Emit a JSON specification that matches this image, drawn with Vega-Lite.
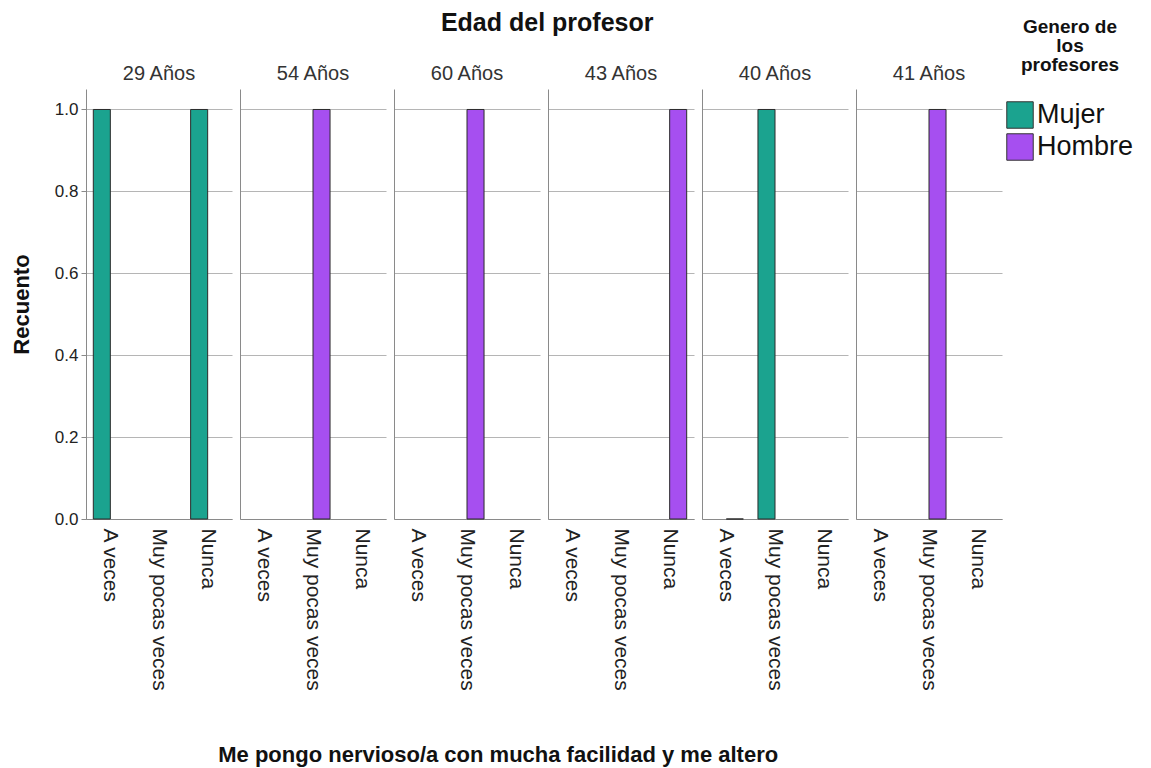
{
  "$schema": "https://vega.github.io/schema/vega-lite/v6.json",
  "padding": {"left": 10, "top": 11, "right": 0, "bottom": 4},
  "background": "white",
  "data": {
    "values": [
      {"edad": "29 Años", "respuesta": "A veces", "genero": "Mujer", "recuento": 1},
      {"edad": "29 Años", "respuesta": "Nunca", "genero": "Mujer", "recuento": 1},
      {"edad": "54 Años", "respuesta": "Muy pocas veces", "genero": "Hombre", "recuento": 1},
      {"edad": "60 Años", "respuesta": "Muy pocas veces", "genero": "Hombre", "recuento": 1},
      {"edad": "43 Años", "respuesta": "Nunca", "genero": "Hombre", "recuento": 1},
      {"edad": "40 Años", "respuesta": "A veces", "genero": "Hombre", "recuento": 0},
      {"edad": "40 Años", "respuesta": "Muy pocas veces", "genero": "Mujer", "recuento": 1},
      {"edad": "41 Años", "respuesta": "Muy pocas veces", "genero": "Hombre", "recuento": 1}
    ]
  },
  "title": {"text": "Me pongo nervioso/a con mucha facilidad y me altero", "orient": "bottom", "anchor": "middle", "fontSize": 22, "fontWeight": "bold", "color": "#111", "offset": 55, "dx": -74},
  "resolve": {"scale": {"color": "shared"}, "legend": {"color": "shared"}},
  "vconcat": [
    {
      "title": {"text": "Edad del profesor", "anchor": "middle", "fontSize": 25, "fontWeight": "bold", "color": "#111", "offset": 28, "dx": 41},
      "spacing": 8,
      "resolve": {"scale": {"color": "shared", "x": "independent", "y": "independent", "xOffset": "independent"}, "legend": {"color": "shared"}},
      "hconcat": [
        {
          "width": 146, "height": 430,
          "title": {"text": "29 Años", "fontSize": 20, "fontWeight": "normal", "color": "#333", "offset": 5, "anchor": "middle"},
          "transform": [{"filter": "datum.edad === '29 Años'"}],
          "mark": {"type": "bar", "stroke": "#2b2b2b", "strokeWidth": 1},
          "encoding": {
            "x": {"field": "respuesta", "type": "nominal", "scale": {"domain": ["A veces", "Muy pocas veces", "Nunca"], "paddingInner": 0.3, "paddingOuter": 0.15}, "axis": {"title": null}},
            "xOffset": {"field": "genero", "type": "nominal", "scale": {"domain": ["Mujer", "Hombre"], "paddingInner": 0, "paddingOuter": 0}},
            "y": {"field": "recuento", "type": "quantitative", "scale": {"domain": [0, 1.05], "nice": false}, "axis": {"title": "Recuento", "values": [0, 0.2, 0.4, 0.6, 0.8, 1.0], "format": ".1f"}},
            "color": {"field": "genero", "type": "nominal", "scale": {"domain": ["Mujer", "Hombre"], "range": ["#1ba38f", "#a64ff0"]}, "legend": {"title": ["Genero de", "los", "profesores"], "orient": "none", "legendX": 920, "legendY": -71}}
          }
        },
        {
          "width": 146, "height": 430,
          "title": {"text": "54 Años", "fontSize": 20, "fontWeight": "normal", "color": "#333", "offset": 5, "anchor": "middle"},
          "transform": [{"filter": "datum.edad === '54 Años'"}],
          "mark": {"type": "bar", "stroke": "#2b2b2b", "strokeWidth": 1},
          "encoding": {
            "x": {"field": "respuesta", "type": "nominal", "scale": {"domain": ["A veces", "Muy pocas veces", "Nunca"], "paddingInner": 0.3, "paddingOuter": 0.15}, "axis": {"title": null}},
            "xOffset": {"field": "genero", "type": "nominal", "scale": {"domain": ["Mujer", "Hombre"], "paddingInner": 0, "paddingOuter": 0}},
            "y": {"field": "recuento", "type": "quantitative", "scale": {"domain": [0, 1.05], "nice": false}, "axis": {"title": null, "values": [0, 0.2, 0.4, 0.6, 0.8, 1.0], "labels": false, "ticks": false}},
            "color": {"field": "genero", "type": "nominal", "scale": {"domain": ["Mujer", "Hombre"], "range": ["#1ba38f", "#a64ff0"]}, "legend": {"title": ["Genero de", "los", "profesores"], "orient": "none", "legendX": 920, "legendY": -71}}
          }
        },
        {
          "width": 146, "height": 430,
          "title": {"text": "60 Años", "fontSize": 20, "fontWeight": "normal", "color": "#333", "offset": 5, "anchor": "middle"},
          "transform": [{"filter": "datum.edad === '60 Años'"}],
          "mark": {"type": "bar", "stroke": "#2b2b2b", "strokeWidth": 1},
          "encoding": {
            "x": {"field": "respuesta", "type": "nominal", "scale": {"domain": ["A veces", "Muy pocas veces", "Nunca"], "paddingInner": 0.3, "paddingOuter": 0.15}, "axis": {"title": null}},
            "xOffset": {"field": "genero", "type": "nominal", "scale": {"domain": ["Mujer", "Hombre"], "paddingInner": 0, "paddingOuter": 0}},
            "y": {"field": "recuento", "type": "quantitative", "scale": {"domain": [0, 1.05], "nice": false}, "axis": {"title": null, "values": [0, 0.2, 0.4, 0.6, 0.8, 1.0], "labels": false, "ticks": false}},
            "color": {"field": "genero", "type": "nominal", "scale": {"domain": ["Mujer", "Hombre"], "range": ["#1ba38f", "#a64ff0"]}, "legend": {"title": ["Genero de", "los", "profesores"], "orient": "none", "legendX": 920, "legendY": -71}}
          }
        },
        {
          "width": 146, "height": 430,
          "title": {"text": "43 Años", "fontSize": 20, "fontWeight": "normal", "color": "#333", "offset": 5, "anchor": "middle"},
          "transform": [{"filter": "datum.edad === '43 Años'"}],
          "mark": {"type": "bar", "stroke": "#2b2b2b", "strokeWidth": 1},
          "encoding": {
            "x": {"field": "respuesta", "type": "nominal", "scale": {"domain": ["A veces", "Muy pocas veces", "Nunca"], "paddingInner": 0.3, "paddingOuter": 0.15}, "axis": {"title": null}},
            "xOffset": {"field": "genero", "type": "nominal", "scale": {"domain": ["Mujer", "Hombre"], "paddingInner": 0, "paddingOuter": 0}},
            "y": {"field": "recuento", "type": "quantitative", "scale": {"domain": [0, 1.05], "nice": false}, "axis": {"title": null, "values": [0, 0.2, 0.4, 0.6, 0.8, 1.0], "labels": false, "ticks": false}},
            "color": {"field": "genero", "type": "nominal", "scale": {"domain": ["Mujer", "Hombre"], "range": ["#1ba38f", "#a64ff0"]}, "legend": {"title": ["Genero de", "los", "profesores"], "orient": "none", "legendX": 920, "legendY": -71}}
          }
        },
        {
          "width": 146, "height": 430,
          "title": {"text": "40 Años", "fontSize": 20, "fontWeight": "normal", "color": "#333", "offset": 5, "anchor": "middle"},
          "transform": [{"filter": "datum.edad === '40 Años'"}],
          "mark": {"type": "bar", "stroke": "#2b2b2b", "strokeWidth": 1},
          "encoding": {
            "x": {"field": "respuesta", "type": "nominal", "scale": {"domain": ["A veces", "Muy pocas veces", "Nunca"], "paddingInner": 0.3, "paddingOuter": 0.15}, "axis": {"title": null}},
            "xOffset": {"field": "genero", "type": "nominal", "scale": {"domain": ["Mujer", "Hombre"], "paddingInner": 0, "paddingOuter": 0}},
            "y": {"field": "recuento", "type": "quantitative", "scale": {"domain": [0, 1.05], "nice": false}, "axis": {"title": null, "values": [0, 0.2, 0.4, 0.6, 0.8, 1.0], "labels": false, "ticks": false}},
            "color": {"field": "genero", "type": "nominal", "scale": {"domain": ["Mujer", "Hombre"], "range": ["#1ba38f", "#a64ff0"]}, "legend": {"title": ["Genero de", "los", "profesores"], "orient": "none", "legendX": 920, "legendY": -71}}
          }
        },
        {
          "width": 146, "height": 430,
          "title": {"text": "41 Años", "fontSize": 20, "fontWeight": "normal", "color": "#333", "offset": 5, "anchor": "middle"},
          "transform": [{"filter": "datum.edad === '41 Años'"}],
          "mark": {"type": "bar", "stroke": "#2b2b2b", "strokeWidth": 1},
          "encoding": {
            "x": {"field": "respuesta", "type": "nominal", "scale": {"domain": ["A veces", "Muy pocas veces", "Nunca"], "paddingInner": 0.3, "paddingOuter": 0.15}, "axis": {"title": null}},
            "xOffset": {"field": "genero", "type": "nominal", "scale": {"domain": ["Mujer", "Hombre"], "paddingInner": 0, "paddingOuter": 0}},
            "y": {"field": "recuento", "type": "quantitative", "scale": {"domain": [0, 1.05], "nice": false}, "axis": {"title": null, "values": [0, 0.2, 0.4, 0.6, 0.8, 1.0], "labels": false, "ticks": false}},
            "color": {"field": "genero", "type": "nominal", "scale": {"domain": ["Mujer", "Hombre"], "range": ["#1ba38f", "#a64ff0"]}, "legend": {"title": ["Genero de", "los", "profesores"], "orient": "none", "legendX": 920, "legendY": -71}}
          }
        }
      ]
    }
  ],
  "config": {
    "font": "Liberation Sans",
    "view": {"stroke": null},
    "axis": {"domainColor": "#8a8a8a", "gridColor": "#b5b5b5", "tickColor": "#8a8a8a", "labelColor": "#222", "titleColor": "#111", "labelFont": "Liberation Sans", "titleFont": "Liberation Sans"},
    "axisY": {"grid": true, "tickSize": 5, "labelFontSize": 17, "labelPadding": 3, "titleFontSize": 22, "titleFontWeight": "bold", "titlePadding": 21},
    "axisX": {"grid": false, "labelFontSize": 21, "labelAngle": 90, "ticks": false, "labelPadding": 9},
    "legend": {"titleFontSize": 19, "titleFontWeight": "bold", "titleColor": "#111", "titleAlign": "center", "titleAnchor": "middle", "titleLineHeight": 19, "titlePadding": 26, "labelFontSize": 27, "labelColor": "#111", "symbolType": "square", "symbolSize": 700, "symbolStrokeColor": "#333", "symbolStrokeWidth": 1, "rowPadding": 0, "padding": 0, "labelOffset": 3}
  }
}
